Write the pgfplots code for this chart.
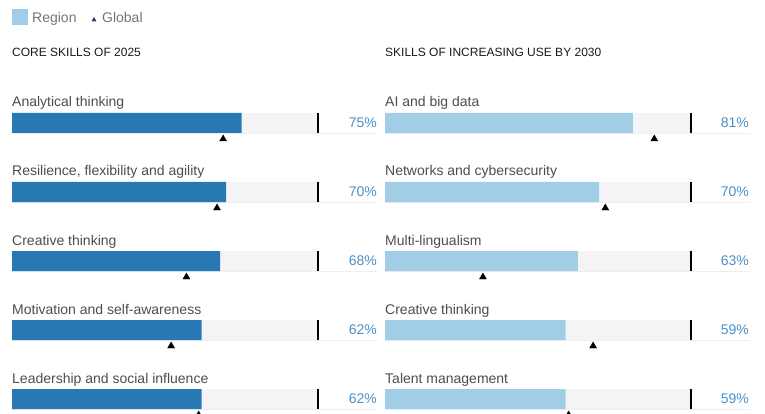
\documentclass[border=0pt]{standalone}
\usepackage{pgfplots}
\pgfplotsset{compat=1.18}
\usepackage{fontspec}
\setmainfont{Liberation Sans}
\definecolor{darkbar}{HTML}{2878B4}
\definecolor{lightbar}{HTML}{A2CDE6}
\definecolor{bggray}{HTML}{F4F4F4}
\definecolor{basegray}{HTML}{EEEEEE}
\definecolor{pcttext}{HTML}{4A91C9}
\definecolor{labeltext}{HTML}{4D4D4D}
\definecolor{legtext}{HTML}{757575}
\definecolor{legtri}{HTML}{1F3F66}
\begin{document}
\begin{tikzpicture}
\useasboundingbox (0,0) rectangle (765pt,414pt);
\pgfplotsset{panel/.style={scale only axis, width=382.5pt, height=414pt,
  ymin=0, ymax=414, y dir=reverse, hide axis, clip=false, anchor=south west}}
\tikzset{lab/.style={anchor=base west, inner sep=0pt, text=labeltext, font=\fontsize{14}{16}\selectfont},
  pct/.style={anchor=base east, inner sep=0pt, text=pcttext, font=\fontsize{14}{16}\selectfont},
  ttl/.style={anchor=base west, inner sep=0pt, text=black!90, font=\fontsize{12}{14}\selectfont}}
% ---------------- left panel
\begin{axis}[panel, at={(0pt,0pt)}, xmin=-3.9216, xmax=121.078]
\addplot[draw=basegray, line width=1.5pt, unbounded coords=jump] coordinates
  {(0,133.5)(119.6,133.5)(0,nan)(0,202.5)(119.6,202.5)(0,nan)(0,271.5)(119.6,271.5)(0,nan)(0,340.5)(119.6,340.5)(0,nan)(0,409.5)(119.6,409.5)};
\addplot[xbar, bar width=20pt, fill=bggray, draw=none] coordinates
  {(100,123)(100,192)(100,261)(100,330)(100,399)};
\addplot[xbar, bar width=20pt, fill=darkbar, draw=none] coordinates
  {(75,123)(70,192)(68,261)(62,330)(62,399)};
\addplot[black, line width=2pt, unbounded coords=jump] coordinates
  {(100,113)(100,133)(100,nan)(100,182)(100,202)(100,nan)(100,251)(100,271)(100,nan)(100,320)(100,340)(100,nan)(100,389)(100,409)};
\addplot[only marks, mark=triangle*, mark size=4pt, black] coordinates
  {(69,139)(67,208)(57,277)(52,346)(61,415)};
\node[lab] at (axis cs:0,107) {Analytical thinking};
\node[lab] at (axis cs:0,176) {Resilience, flexibility and agility};
\node[lab] at (axis cs:0,245) {Creative thinking};
\node[lab] at (axis cs:0,314) {Motivation and self-awareness};
\node[lab] at (axis cs:0,383) {Leadership and social influence};
\node[pct] at (axis cs:119.3,127.5) {75\%};
\node[pct] at (axis cs:119.3,196.5) {70\%};
\node[pct] at (axis cs:119.3,265.5) {68\%};
\node[pct] at (axis cs:119.3,334.5) {62\%};
\node[pct] at (axis cs:119.3,403.5) {62\%};
\node[ttl] at (axis cs:0,57) {CORE SKILLS OF 2025};
% legend
\fill[lightbar] (axis cs:0,9.5) rectangle (axis cs:5.23,25.5);
\node[anchor=base west, inner sep=0pt, text=legtext, font=\fontsize{14}{16}\selectfont] at (axis cs:6.54,23) {Region};
\fill[legtri] (axis cs:26.0,21.5) -- (axis cs:27.6,21.5) -- (axis cs:26.8,16.8) -- cycle;
\node[anchor=base west, inner sep=0pt, text=legtext, font=\fontsize{14}{16}\selectfont] at (axis cs:29.4,23) {Global};
\end{axis}
% ---------------- right panel
\begin{axis}[panel, at={(382.5pt,0pt)}, xmin=-0.817, xmax=124.183]
\addplot[draw=basegray, line width=1.5pt, unbounded coords=jump] coordinates
  {(0,133.5)(119.2,133.5)(0,nan)(0,202.5)(119.2,202.5)(0,nan)(0,271.5)(119.2,271.5)(0,nan)(0,340.5)(119.2,340.5)(0,nan)(0,409.5)(119.2,409.5)};
\addplot[xbar, bar width=20pt, fill=bggray, draw=none] coordinates
  {(100,123)(100,192)(100,261)(100,330)(100,399)};
\addplot[xbar, bar width=20pt, fill=lightbar, draw=none] coordinates
  {(81,123)(70,192)(63,261)(59,330)(59,399)};
\addplot[black, line width=2pt, unbounded coords=jump] coordinates
  {(100,113)(100,133)(100,nan)(100,182)(100,202)(100,nan)(100,251)(100,271)(100,nan)(100,320)(100,340)(100,nan)(100,389)(100,409)};
\addplot[only marks, mark=triangle*, mark size=4pt, black] coordinates
  {(88,139)(72,208)(32,277)(68,346)(60,415)};
\node[lab] at (axis cs:0,107) {AI and big data};
\node[lab] at (axis cs:0,176) {Networks and cybersecurity};
\node[lab] at (axis cs:0,245) {Multi-lingualism};
\node[lab] at (axis cs:0,314) {Creative thinking};
\node[lab] at (axis cs:0,383) {Talent management};
\node[pct] at (axis cs:118.95,127.5) {81\%};
\node[pct] at (axis cs:118.95,196.5) {70\%};
\node[pct] at (axis cs:118.95,265.5) {63\%};
\node[pct] at (axis cs:118.95,334.5) {59\%};
\node[pct] at (axis cs:118.95,403.5) {59\%};
\node[ttl] at (axis cs:0,57) {SKILLS OF INCREASING USE BY 2030};
\end{axis}
\end{tikzpicture}
\end{document}
